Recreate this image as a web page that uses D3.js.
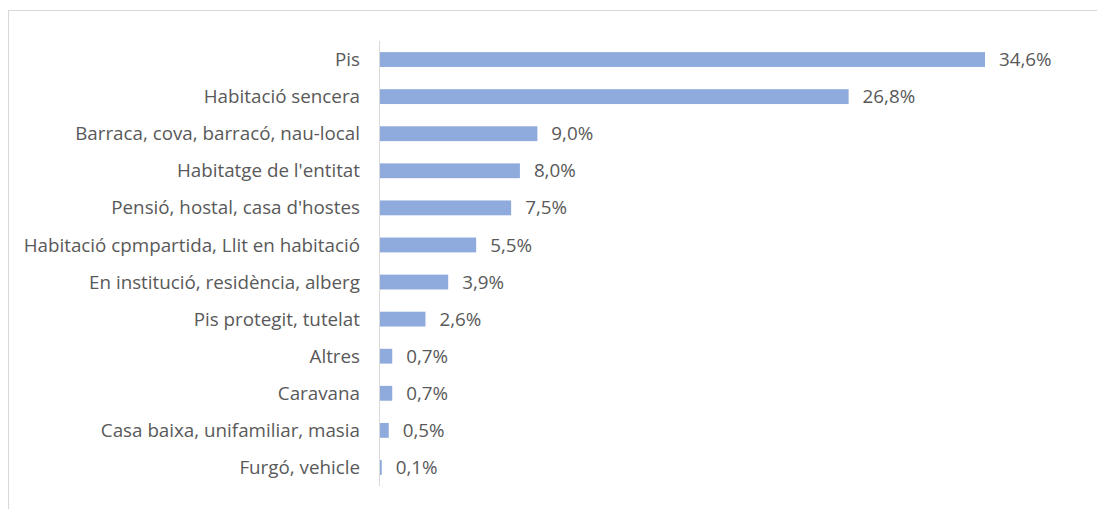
<html>
<head>
  <script src="https://d3js.org/d3.v7.min.js"></script>
  <style>
    body { margin: 0; background: #fff; }
    text { font-family: "Open Sans", sans-serif; fill: #595959; }
  </style>
</head>
<body>
  <svg id="chart" width="1097" height="509"></svg>
  <script>
    // categories top to bottom
    const categories = [
      "Pis",
      "Habitació sencera",
      "Barraca, cova, barracó, nau-local",
      "Habitatge de l'entitat",
      "Pensió, hostal, casa d'hostes",
      "Habitació cpmpartida, Llit en habitació",
      "En institució, residència, alberg",
      "Pis protegit, tutelat",
      "Altres",
      "Caravana",
      "Casa baixa, unifamiliar, masia",
      "Furgó, vehicle"
    ];
    const values = [34.6, 26.8, 9.0, 8.0, 7.5, 5.5, 3.9, 2.6, 0.7, 0.7, 0.5, 0.1];

    const svg = d3.select("#chart");

    // outer chart frame (runs off the page on the right and bottom)
    svg.append("rect")
      .attr("x", 8.5).attr("y", 10.5)
      .attr("width", 1200).attr("height", 600)
      .attr("fill", "none")
      .attr("stroke", "#d9d9d9");

    const x = d3.scaleLinear().domain([0, 34.6]).range([380, 985]);
    const y = d3.scaleBand().domain(categories).range([41, 486])
      .paddingInner(0.6).paddingOuter(0.3);

    const fmt = v => d3.format(".1f")(v).replace(".", ",") + "%";

    svg.selectAll(".bar").data(categories)
      .join("rect")
      .attr("class", "bar")
      .attr("x", x(0))
      .attr("y", d => y(d))
      .attr("width", (d, i) => x(values[i]) - x(0))
      .attr("height", y.bandwidth())
      .attr("fill", "#8faadc");

    // category axis line
    svg.append("line")
      .attr("x1", 379.5).attr("x2", 379.5)
      .attr("y1", 41).attr("y2", 486)
      .attr("stroke", "#d9d9d9");

    svg.selectAll(".cat").data(categories)
      .join("text")
      .attr("class", "cat")
      .attr("x", 360)
      .attr("y", d => y(d) + y.bandwidth() / 2)
      .attr("dy", "0.35em")
      .attr("text-anchor", "end")
      .attr("font-size", 18.8)
      .text(d => d);

    svg.selectAll(".val").data(categories)
      .join("text")
      .attr("class", "val")
      .attr("x", (d, i) => x(values[i]) + 14)
      .attr("y", d => y(d) + y.bandwidth() / 2)
      .attr("dy", "0.35em")
      .attr("font-size", 18.8)
      .text((d, i) => fmt(values[i]));
  </script>
</body>
</html>
